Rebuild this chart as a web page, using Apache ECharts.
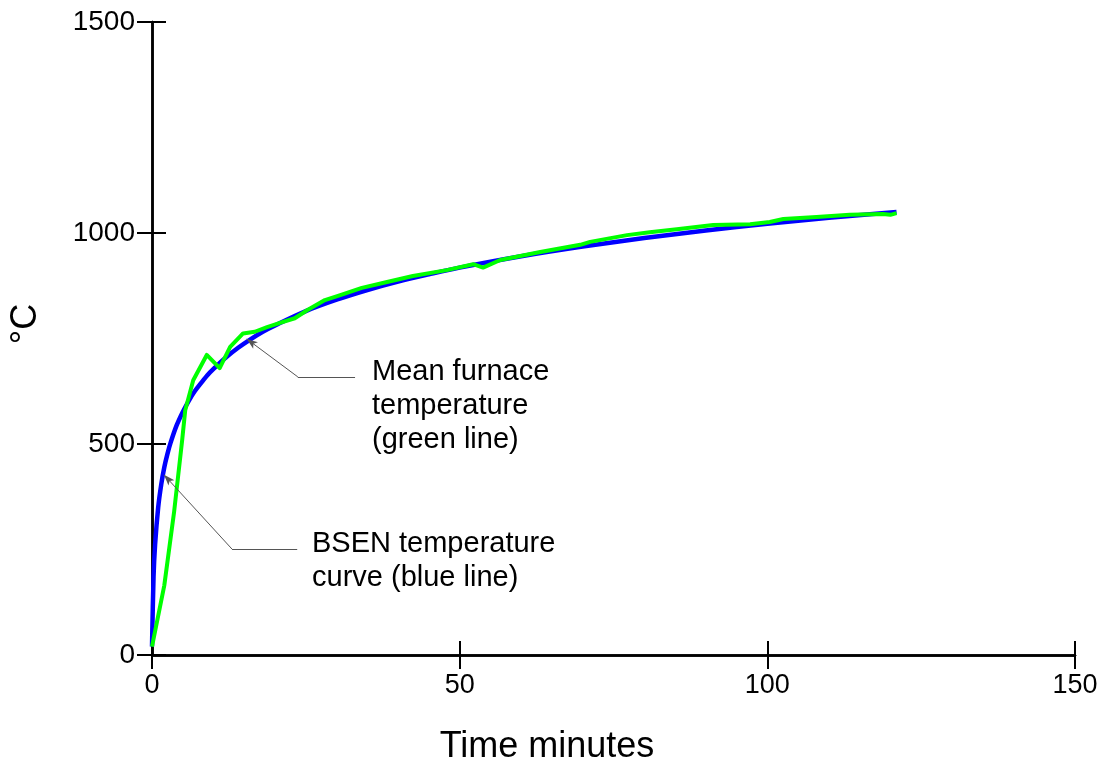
<!DOCTYPE html>
<html>
<head>
<meta charset="utf-8">
<script src="https://cdn.jsdelivr.net/npm/echarts@6/dist/echarts.min.js"></script>
<style>html,body{margin:0;padding:0;background:#fff}#c{width:1105px;height:765px}</style>
</head>
<body>
<div id="c"></div>
<script>
// ---- data ----
const xTicks = [0, 50, 100, 150];
const yTicks = [0, 500, 1000, 1500];
const bsenTime = [0, 0.25, 0.5, 1, 1.5, 2, 2.5, 3, 4, 5, 6, 7, 8, 9, 10, 12, 14, 16, 18, 20, 25, 30, 35, 40, 45, 50, 60, 70, 80, 90, 100, 110, 121];
const bsenTemp = [20, 185, 261, 349, 404, 445, 476, 502, 544, 576, 603, 626, 645, 663, 678, 705, 728, 748, 766, 781, 815, 842, 865, 885, 902, 918, 945, 968, 988, 1006, 1022, 1036, 1050];
const furnaceTime = [0, 2, 3.6, 4.9, 5.4, 6.7, 8.9, 11.0, 12.7, 14.8, 16.7, 18.7, 20.8, 23.2, 25.2, 28.1, 30.6, 34.1, 38.2, 42.4, 47.9, 52.2, 53.8, 56.6, 63.1, 69.6, 71.2, 77.2, 80.9, 85.3, 91.2, 97.2, 100.4, 102.6, 108, 113.4, 118.8, 120, 121];
const furnaceTemp = [20, 165, 340, 509, 580, 651, 711, 680, 730, 762, 766, 777, 787, 798, 817, 841, 853, 870, 884, 898, 912, 926, 918, 936, 955, 972, 979, 995, 1002, 1009, 1019, 1021, 1026, 1033, 1038, 1043, 1045, 1043, 1047];
const furnaceLeader = [[33, 659], [23.7, 659], [15.4, 749]];
const bsenLeader = [[23.6, 251], [13, 251], [1.95, 427]];
const furnaceText = 'Mean furnace\ntemperature\n(green line)';
const bsenText = 'BSEN temperature\ncurve (blue line)';
const xName = 'Time minutes';
const yName = '°C';

// ---- chart ----
const FONT = '"Liberation Sans", Arial, Helvetica, sans-serif';
const chart = echarts.init(document.getElementById('c'), null, {renderer: 'canvas'});
const zip = (a, b) => a.map((v, i) => [v, b[i]]);
const leaderLines = (pts) => [
  [{coord: pts[0], symbol: 'none'}, {coord: pts[1], symbol: 'none'}],
  [{coord: pts[1], symbol: 'none'}, {coord: pts[2], symbol: 'arrow'}]
];
const plain = (v) => String(v);
const axisBase = (extra) => Object.assign({
  type: 'value',
  splitLine: {show: false},
  axisLine: {show: true, lineStyle: {color: '#000', width: 2.5}},
}, extra);

const option = {
  animation: false,
  backgroundColor: '#fff',
  grid: {left: 152, right: 30, top: 22, bottom: 110, containLabel: false},
  xAxis: [
    axisBase({min: xTicks[0], max: xTicks[xTicks.length - 1], interval: xTicks[1] - xTicks[0], position: 'bottom',
      axisTick: {show: true, inside: true, length: 14, lineStyle: {color: '#000', width: 2}},
      axisLabel: {show: true, margin: 17, fontSize: 27, color: '#000', fontFamily: FONT, formatter: plain}}),
    axisBase({min: xTicks[0], max: xTicks[xTicks.length - 1], interval: xTicks[1] - xTicks[0], position: 'bottom',
      axisTick: {show: true, inside: false, length: 14, lineStyle: {color: '#000', width: 2}},
      axisLabel: {show: false}})
  ],
  yAxis: [
    axisBase({min: yTicks[0], max: yTicks[yTicks.length - 1], interval: yTicks[1] - yTicks[0], position: 'left',
      axisTick: {show: true, inside: true, length: 14, lineStyle: {color: '#000', width: 2}},
      axisLabel: {show: true, margin: 17, fontSize: 28, color: '#000', fontFamily: FONT, formatter: plain}}),
    axisBase({min: yTicks[0], max: yTicks[yTicks.length - 1], interval: yTicks[1] - yTicks[0], position: 'left',
      axisTick: {show: true, inside: false, length: 15, lineStyle: {color: '#000', width: 2}},
      axisLabel: {show: false}})
  ],
  series: [
    {
      type: 'line', name: 'BSEN', data: zip(bsenTime, bsenTemp), smooth: 0.3,
      showSymbol: false, symbol: 'none', lineStyle: {color: '#0000ff', width: 4.5}, z: 2
    },
    {
      type: 'line', name: 'Furnace', data: zip(furnaceTime, furnaceTemp), smooth: false,
      showSymbol: false, symbol: 'none', lineStyle: {color: '#00ff00', width: 4, join: 'round'}, z: 3
    },
    {
      type: 'line', name: 'leaders', data: [], silent: true, z: 4,
      markLine: {
        silent: true, animation: false, symbolSize: [6, 11],
        label: {show: false},
        lineStyle: {color: '#555', width: 1, type: 'solid'},
        emphasis: {disabled: true},
        data: leaderLines(furnaceLeader).concat(leaderLines(bsenLeader))
      }
    }
  ],
  graphic: [
    {type: 'text', left: 372, top: 355, silent: true,
      style: {text: furnaceText, font: '29px ' + FONT, lineHeight: 34, fill: '#000'}},
    {type: 'text', left: 312, top: 527, silent: true,
      style: {text: bsenText, font: '29px ' + FONT, lineHeight: 34, fill: '#000'}},
    {type: 'text', x: 547, y: 747, silent: true,
      style: {text: xName, font: '36px ' + FONT, fill: '#000', align: 'center', verticalAlign: 'middle'}},
    {type: 'text', x: 26, y: 324, rotation: Math.PI / 2, silent: true,
      style: {text: yName, font: '36px ' + FONT, fill: '#000', align: 'center', verticalAlign: 'middle'}}
  ]
};
chart.setOption(option);
</script>
</body>
</html>
